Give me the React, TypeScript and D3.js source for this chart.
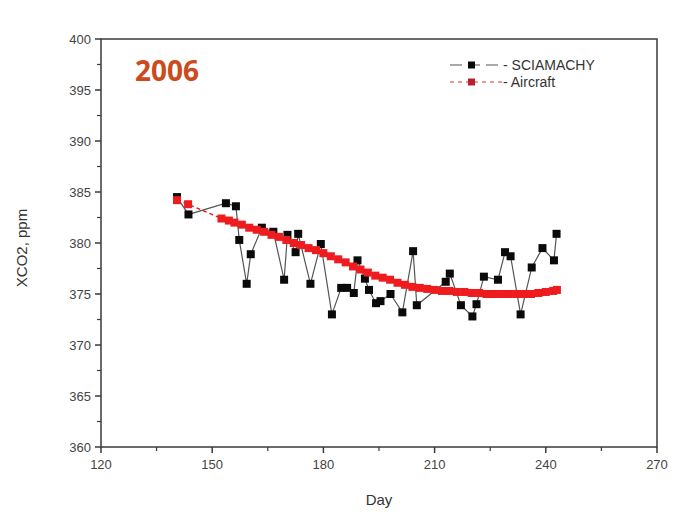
import React from "react";
import * as d3 from "d3";

// SCIAMACHY retrievals (day, XCO2 ppm)
const sciaDays = [
  140.5, 143.6, 153.7, 156.4, 157.3, 159.3, 160.4, 163.4, 166.5, 169.4, 170.3,
  172.5, 173.2, 176.5, 179.3, 182.3, 184.8, 186.4, 188.2, 189.2, 191.2, 192.3,
  194.2, 195.4, 198.1, 201.3, 204.2, 205.2, 213.0, 214.1, 217.1, 220.2, 221.3,
  223.3, 227.1, 229.0, 230.5, 233.2, 236.2, 239.1, 242.2, 242.9,
];
const sciaValues = [
  384.5, 382.8, 383.9, 383.6, 380.3, 376.0, 378.9, 381.5, 381.1, 376.4, 380.8,
  379.1, 380.9, 376.0, 379.9, 373.0, 375.6, 375.6, 375.1, 378.3, 376.5, 375.4,
  374.1, 374.3, 375.0, 373.2, 379.2, 373.9, 376.2, 377.0, 373.9, 372.8, 374.0,
  376.7, 376.4, 379.1, 378.7, 373.0, 377.6, 379.5, 378.3, 380.9,
];

// Aircraft profile
const airDays = [
  140.5, 143.5, 152.5, 154.5, 156, 158, 160, 162, 164, 166, 168, 170, 172, 174,
  176, 178, 180, 182, 184, 186, 188, 190, 192, 194, 196, 198, 200, 202, 204,
  206, 208, 210, 212, 214, 216, 218, 220, 222, 224, 226, 228, 230, 232, 234,
  236, 238, 240, 242, 243,
];
const airValues = [
  384.2, 383.8, 382.4, 382.2, 382.0, 381.8, 381.5, 381.3, 381.1, 380.8, 380.6,
  380.3, 380.0, 379.8, 379.5, 379.3, 379.0, 378.7, 378.4, 378.1, 377.7, 377.4,
  377.1, 376.8, 376.6, 376.4, 376.1, 375.9, 375.7, 375.6, 375.5, 375.4, 375.3,
  375.3, 375.2, 375.2, 375.1, 375.1, 375.0, 375.0, 375.0, 375.0, 375.0, 375.0,
  375.0, 375.1, 375.2, 375.3, 375.4,
];

const xTicks = [120, 150, 180, 210, 240, 270];
const yTicks = [360, 365, 370, 375, 380, 385, 390, 395, 400];

const W = 684;
const H = 517;
const M = { left: 101, right: 657, top: 39, bottom: 447 };
const axisColor = "#3a3a3a";
const textColor = "#444";
const font = "'Liberation Sans', Arial, sans-serif";

const App = () => {
  const x = d3.scaleLinear().domain([120, 270]).range([M.left, M.right]);
  const y = d3.scaleLinear().domain([360, 400]).range([M.bottom, M.top]);

  const scia = sciaDays.map((d, i) => [d, sciaValues[i]] as [number, number]);
  const air = airDays.map((d, i) => [d, airValues[i]] as [number, number]);

  const line = d3
    .line<[number, number]>()
    .x((d) => x(d[0]))
    .y((d) => y(d[1]));

  const xMinor = d3.range(120, 271, 15).filter((v) => !xTicks.includes(v));
  const yMinor = d3.range(360, 400.1, 2.5).filter((v) => !yTicks.includes(v));

  return (
    <svg
      width={W}
      height={H}
      style={{ position: "absolute", left: 0, top: 0, background: "#fff" }}
    >
      {/* frame */}
      <rect
        x={M.left}
        y={M.top}
        width={M.right - M.left}
        height={M.bottom - M.top}
        fill="none"
        stroke={axisColor}
        strokeWidth={1.5}
      />

      {/* x axis ticks */}
      {xTicks.map((t) => (
        <g key={"xt" + t}>
          <line x1={x(t)} x2={x(t)} y1={M.bottom} y2={M.bottom + 6} stroke={axisColor} strokeWidth={1.5} />
          <text
            x={x(t)}
            y={M.bottom + 22}
            textAnchor="middle"
            fontFamily={font}
            fontSize={13}
            fill={textColor}
          >
            {t}
          </text>
        </g>
      ))}
      {xMinor.map((t) => (
        <line key={"xm" + t} x1={x(t)} x2={x(t)} y1={M.bottom} y2={M.bottom + 4} stroke={axisColor} strokeWidth={1.2} />
      ))}

      {/* y axis ticks */}
      {yTicks.map((t) => (
        <g key={"yt" + t}>
          <line x1={M.left - 6} x2={M.left} y1={y(t)} y2={y(t)} stroke={axisColor} strokeWidth={1.5} />
          <text
            x={M.left - 10}
            y={y(t)}
            dy="0.35em"
            textAnchor="end"
            fontFamily={font}
            fontSize={13}
            fill={textColor}
          >
            {t}
          </text>
        </g>
      ))}
      {yMinor.map((t) => (
        <line key={"ym" + t} x1={M.left - 4} x2={M.left} y1={y(t)} y2={y(t)} stroke={axisColor} strokeWidth={1.2} />
      ))}

      {/* axis titles */}
      <text
        x={(M.left + M.right) / 2}
        y={505}
        textAnchor="middle"
        fontFamily={font}
        fontSize={15}
        fill="#333"
      >
        Day
      </text>
      <text
        transform={`translate(27,${(M.top + M.bottom) / 2 + 5}) rotate(-90)`}
        textAnchor="middle"
        fontFamily={font}
        fontSize={15}
        fill="#333"
      >
        XCO2, ppm
      </text>

      {/* SCIAMACHY */}
      <path d={line(scia) || ""} fill="none" stroke="#555" strokeWidth={1.2} />
      {scia.map((d, i) => (
        <rect key={"s" + i} x={x(d[0]) - 4} y={y(d[1]) - 4} width={8} height={8} fill="#0a0a0a" />
      ))}

      {/* Aircraft */}
      <path d={line(air) || ""} fill="none" stroke="#e8141a" strokeWidth={1.5} strokeDasharray="4,3" />
      {air.map((d, i) => (
        <rect key={"a" + i} x={x(d[0]) - 4} y={y(d[1]) - 4} width={8} height={8} fill="#ee1b1f" />
      ))}

      {/* year label */}
      <text x={135} y={81} fontFamily="'Open Sans', 'Liberation Sans', sans-serif" fontWeight="bold" fontSize={28} fill="#cc4a1c">
        2006
      </text>

      {/* legend */}
      <g fontFamily={font} fontSize={14} fill="#333">
        <line x1={450} x2={502} y1={65} y2={65} stroke="#555" strokeWidth={1.2} strokeDasharray="12,6" />
        <rect x={468} y={61.5} width={7} height={7} fill="#0a0a0a" />
        <text x={503} y={70}>- SCIAMACHY</text>
        <line x1={450} x2={502} y1={82} y2={82} stroke="#d33" strokeWidth={1.2} strokeDasharray="4,4" />
        <rect x={468} y={78.5} width={7} height={7} fill="#b8202e" />
        <text x={503} y={87}>- Aircraft</text>
      </g>
    </svg>
  );
};

export default App;
